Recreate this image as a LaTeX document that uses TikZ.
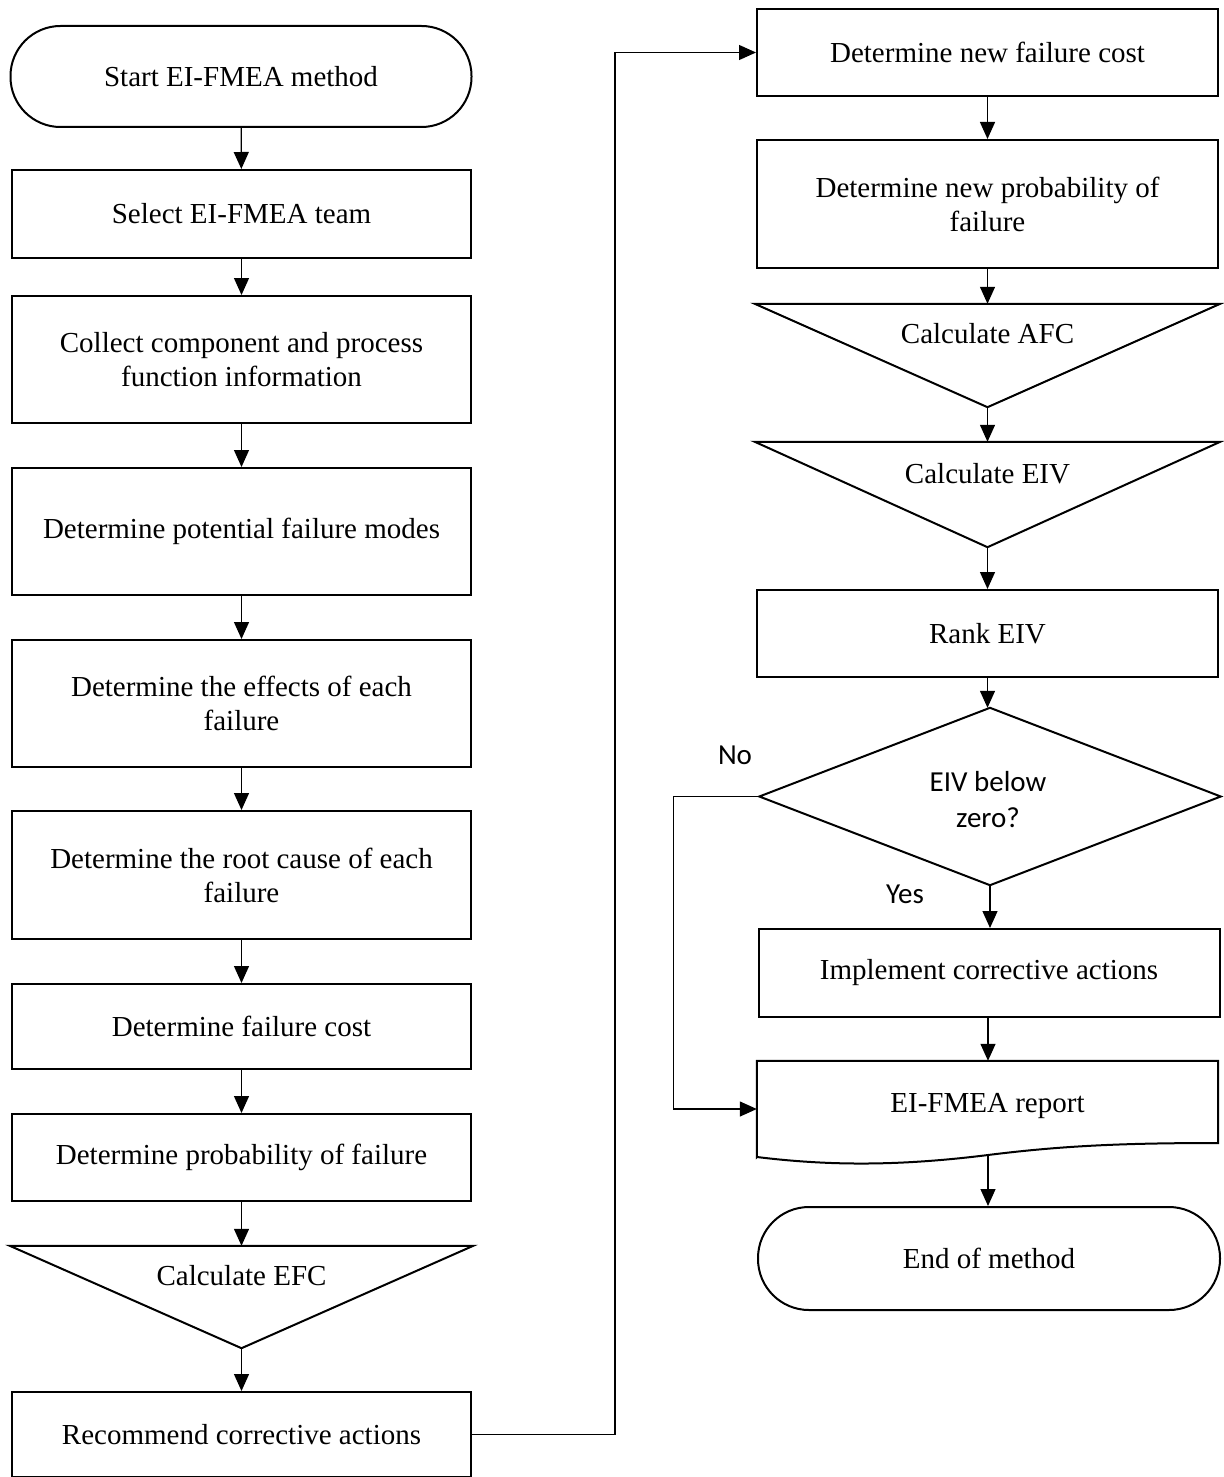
\documentclass[tikz,border=0pt]{standalone}
\usepackage{fontspec}
\setmainfont{Liberation Serif}
\newfontfamily\calibfont{Carlito}
\usetikzlibrary{arrows.meta}
\begin{document}
\begin{tikzpicture}[x=1pt,y=-1pt,
  every node/.style={font=\fontsize{29}{34}\selectfont, inner sep=0pt},
  stepbox/.style={draw, line width=2pt, minimum width=459pt, align=center},
  rstepbox/.style={stepbox, minimum width=461pt},
  term/.style={draw, line width=2pt, rounded corners=50pt, minimum width=461pt, minimum height=101pt},
  frame/.style={minimum width=#1, minimum height=102pt},
  outline/.style={draw, line width=2pt, line join=miter},
  conn/.style={line width=1.3pt, -{Triangle[width=15pt,length=17pt]}},
  lbl/.style={font=\calibfont\fontsize{29}{36}\selectfont, align=center}
]
\useasboundingbox (0,0) rectangle (1223,1477);

% ---------- left column ----------
\node[term] (start) at (241,76.5) {Start EI-FMEA method};
\node[stepbox, minimum height=88pt] (team) at (241.5,214) {Select EI-FMEA team};
\node[stepbox, minimum height=127pt] (info) at (241.5,359.5) {Collect component and process\\function information};
\node[stepbox, minimum height=127pt] (modes) at (241.5,531.5) {Determine potential failure modes};
\node[stepbox, minimum height=127pt] (effects) at (241.5,703.5) {Determine the effects of each\\failure};
\node[stepbox, minimum height=128pt] (root) at (241.5,875) {Determine the root cause of each\\failure};
\node[stepbox, minimum height=85pt] (cost) at (241.5,1026.5) {Determine failure cost};
\node[stepbox, minimum height=87pt] (prob) at (241.5,1157.5) {Determine probability of failure};
\node[frame=463pt] (efc) at (241.5,1297) {};
\draw[outline] (efc.north west) -- (efc.north east) -- (efc.south) -- cycle;
\node (efctext) at (241.5,1276) {Calculate EFC};
\node[stepbox, minimum height=85pt] (recommend) at (241.5,1434.5) {Recommend corrective actions};

% ---------- right column ----------
\node[rstepbox, minimum height=87pt] (newcost) at (987.5,52.5) {Determine new failure cost};
\node[rstepbox, minimum height=128pt] (newprob) at (987.5,204) {Determine new probability of\\failure};
\node[frame=465pt, minimum height=103pt] (afc) at (987.5,355.5) {};
\draw[outline] (afc.north west) -- (afc.north east) -- (afc.south) -- cycle;
\node (afctext) at (987.5,334) {Calculate AFC};
\node[frame=465pt, minimum height=105pt] (eiv) at (987.5,494.5) {};
\draw[outline] (eiv.north west) -- (eiv.north east) -- (eiv.south) -- cycle;
\node (eivtext) at (987.5,474) {Calculate EIV};
\node[rstepbox, minimum height=87pt] (rank) at (987.5,633.5) {Rank EIV};
\node[minimum width=461pt, minimum height=177pt] (dec) at (990,796.5) {};
\draw[outline] (dec.north) -- (dec.east) -- (dec.south) -- (dec.west) -- cycle;
\node[lbl] (dectext) at (988,800) {EIV below\\zero?};
\node[rstepbox, minimum height=88pt] (implement) at (989,973) {Implement corrective actions};
\node[minimum width=461pt, minimum height=96pt] (report) at (987.5,1109) {};
\draw[outline] (report.south west) -- (report.north west) -- (report.north east) -- (1218,1143)
  .. controls (1120,1143) and (1060,1146) .. (988,1155)
  .. controls (900,1166) and (830,1166) .. (757,1157) -- cycle;
\node (reporttext) at (987.5,1106) {EI-FMEA report};
\coordinate (reportbottom) at (988,1155);
\node[term, minimum width=462pt, minimum height=103pt, rounded corners=51pt] (end) at (989,1258.5) {End of method};

\node[lbl] (nolabel) at (735,755) {No};
\node[lbl] (yeslabel) at (905,894) {Yes};

% ---------- connectors ----------
\draw[conn] (start) -- (team);
\draw[conn] (team) -- (info);
\draw[conn] (info) -- (modes);
\draw[conn] (modes) -- (effects);
\draw[conn] (effects) -- (root);
\draw[conn] (root) -- (cost);
\draw[conn] (cost) -- (prob);
\draw[conn] (prob.south) -- (efc.north);
\draw[conn] (efc.south) -- (recommend.north);
\draw[conn] (recommend.east) -- ++(143,0) |- (newcost.west);
\draw[conn] (newcost) -- (newprob);
\draw[conn] (newprob.south) -- (afc.north);
\draw[conn] (afc.south) -- (eiv.north);
\draw[conn] (eiv.south) -- (eiv.south |- rank.north);
\draw[conn] (rank.south) -- (rank.south |- dec.north);
\draw[conn] (dec.north |- dec.south) -- (dec.north |- implement.north);
\draw[conn] (dec.west) -- ++(-86,0) |- (report.west);
\draw[conn] (implement.south -| reportbottom) -- (report.north -| reportbottom);
\draw[conn] (reportbottom) -- (reportbottom |- end.north);
\end{tikzpicture}
\end{document}
